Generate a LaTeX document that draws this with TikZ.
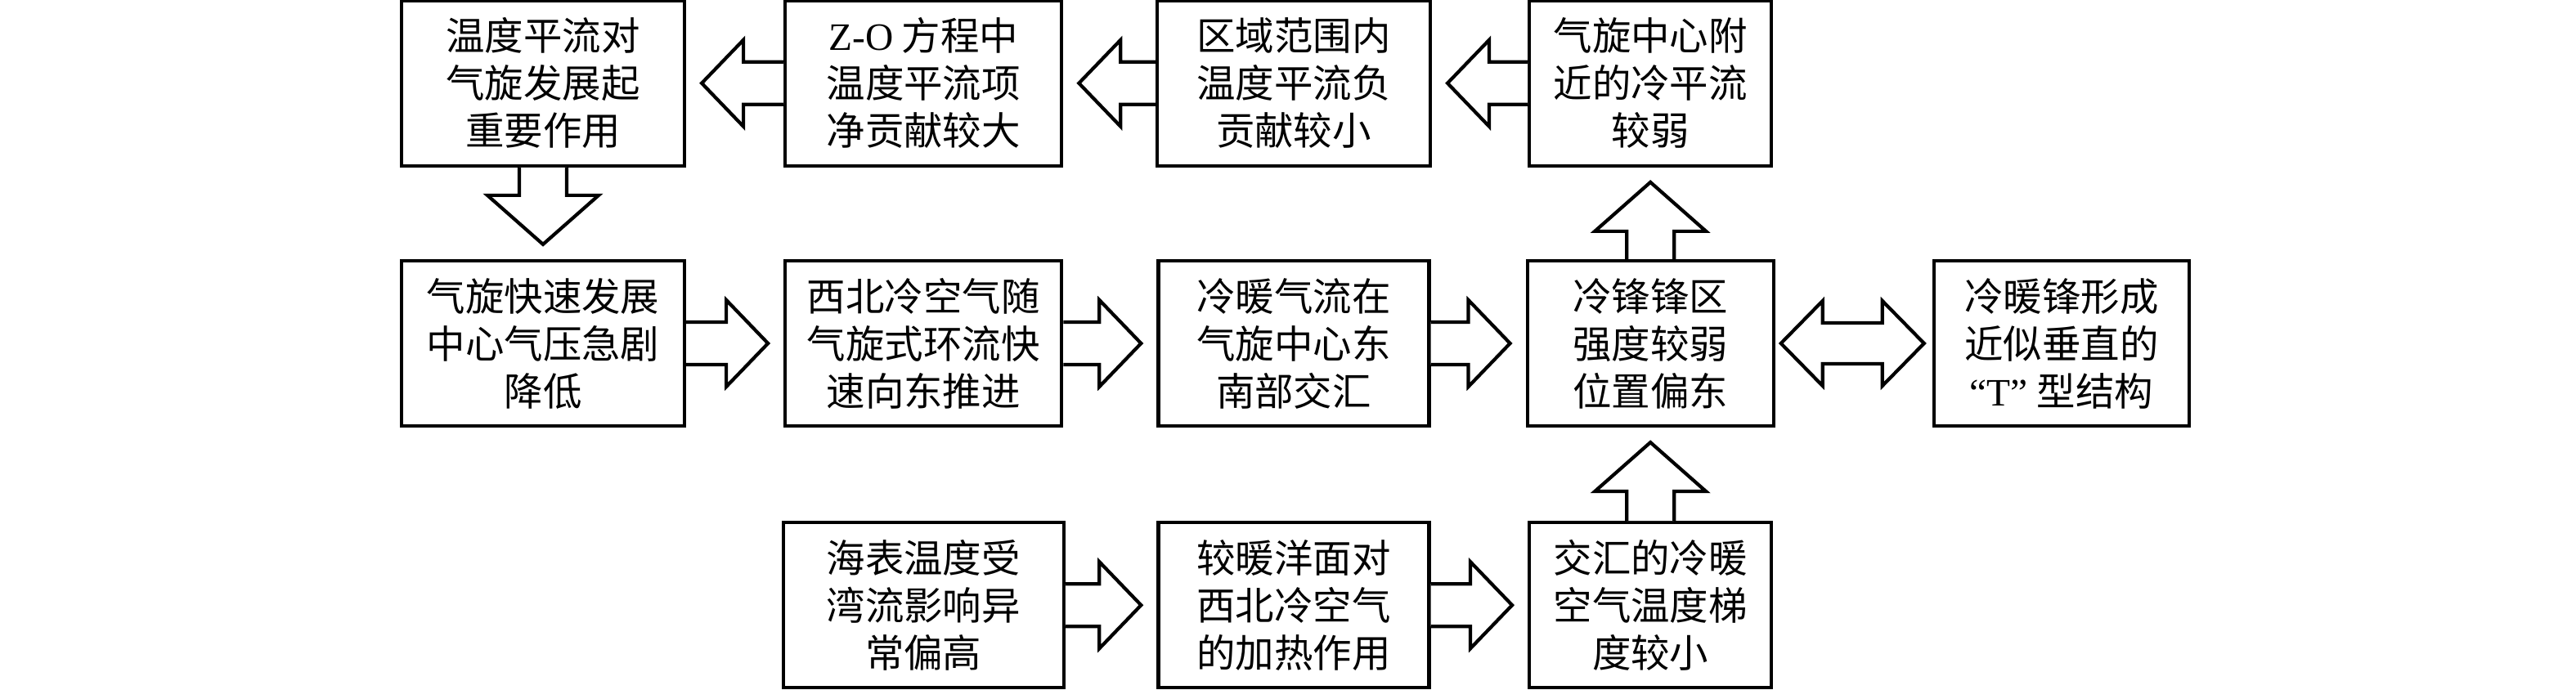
\documentclass[tikz,border=0pt]{standalone}
\usepackage{fontspec}
\setmainfont{Liberation Serif}
\newfontfamily\cjk{Noto Sans CJK SC}
\usetikzlibrary{positioning,calc}
\tikzset{
	frame/.style={
		rectangle, draw, very thick,
		align=center, inner sep=2pt,
		minimum height=2.02cm,
		font=\cjk\fontsize{13.5}{16.5}\selectfont,
	},
	blockarrow/.style={
		draw, very thick, fill=white, line join=miter,
	}
}
% start, target, shaft half width, head half width, head length, gap
\newcommand{\fatarrow}[6]{%
	\coordinate (tip) at ($(#2)!#6!(#1)$);
	\coordinate (head) at ($(tip)!#5!(#1)$);
	\draw[blockarrow] ($(#1)!#3!90:(tip)$) -- ($(head)!#3!90:(tip)$) -- ($(head)!#4!90:(tip)$) -- (tip)
	-- ($(head)!#4!-90:(tip)$) -- ($(head)!#3!-90:(tip)$) -- ($(#1)!#3!-90:(tip)$);
}
\newcommand{\harrow}[2]{\fatarrow{#1}{#2}{0.26cm}{0.53cm}{0.51cm}{0.19cm}}
\newcommand{\varrow}[2]{\fatarrow{#1}{#2}{0.29cm}{0.68cm}{0.60cm}{0.18cm}}
\newcommand{\dblarrow}[2]{%
	\coordinate (tipL) at ($(#1)!0.07cm!(#2)$);
	\coordinate (tipR) at ($(#2)!0.10cm!(#1)$);
	\coordinate (headL) at ($(tipL)!0.51cm!(tipR)$);
	\coordinate (headR) at ($(tipR)!0.51cm!(tipL)$);
	\draw[blockarrow] (tipL) -- ($(headL)!0.52cm!90:(tipR)$) -- ($(headL)!0.25cm!90:(tipR)$)
	-- ($(headR)!0.25cm!-90:(tipL)$) -- ($(headR)!0.52cm!-90:(tipL)$) -- (tipR)
	-- ($(headR)!0.52cm!90:(tipL)$) -- ($(headR)!0.25cm!90:(tipL)$)
	-- ($(headL)!0.25cm!-90:(tipR)$) -- ($(headL)!0.52cm!-90:(tipR)$) -- cycle;
}

\begin{document}
\begin{tikzpicture}
	\useasboundingbox (0,0) rectangle (31.5,-8.44);
	% Middle row
	\node [frame, minimum width=3.46cm] (develop) at (6.64,-4.20) {气旋快速发展\\中心气压急剧\\降低};
	\node [frame, minimum width=3.38cm, right=1.19cm of develop] (nwcold) {西北冷空气随\\气旋式环流快\\速向东推进};
	\node [frame, minimum width=3.31cm, right=1.14cm of nwcold] (meet) {冷暖气流在\\气旋中心东\\南部交汇};
	\node [frame, minimum width=3.01cm, right=1.16cm of meet] (front) {冷锋锋区\\强度较弱\\位置偏东};
	\node [frame, minimum width=3.12cm, right=1.92cm of front] (tshape) {冷暖锋形成\\近似垂直的\\{\rmfamily “T”} 型结构};
	% Top row
	\node [frame, minimum width=3.46cm, above=1.12cm of develop] (advect) {温度平流对\\气旋发展起\\重要作用};
	\node [frame, minimum width=3.38cm, above=1.12cm of nwcold] (zoeq) {{\rmfamily Z-O} 方程中\\温度平流项\\净贡献较大};
	\node [frame, minimum width=3.34cm, above=1.12cm of meet] (region) {区域范围内\\温度平流负\\贡献较小};
	\node [frame, minimum width=2.96cm, above=1.12cm of front] (coldadv) {气旋中心附\\近的冷平流\\较弱};
	% Bottom row
	\node [frame, minimum width=3.43cm, below=1.14cm of nwcold] (sst) {海表温度受\\湾流影响异\\常偏高};
	\node [frame, minimum width=3.31cm, below=1.14cm of meet] (heating) {较暖洋面对\\西北冷空气\\的加热作用};
	\node [frame, minimum width=2.96cm, below=1.14cm of front] (gradient) {交汇的冷暖\\空气温度梯\\度较小};
	% Top row arrows
	\harrow{coldadv.west}{region.east}
	\harrow{region.west}{zoeq.east}
	\harrow{zoeq.west}{advect.east}
	\varrow{advect.south}{develop.north}
	% Middle row arrows
	\harrow{develop.east}{nwcold.west}
	\harrow{nwcold.east}{meet.west}
	\harrow{meet.east}{front.west}
	\varrow{front.north}{coldadv.south}
	\dblarrow{front.east}{tshape.west}
	% Bottom row arrows
	\harrow{sst.east}{heating.west}
	\harrow{heating.east}{gradient.west}
	\varrow{gradient.north}{front.south}
\end{tikzpicture}
\end{document}
